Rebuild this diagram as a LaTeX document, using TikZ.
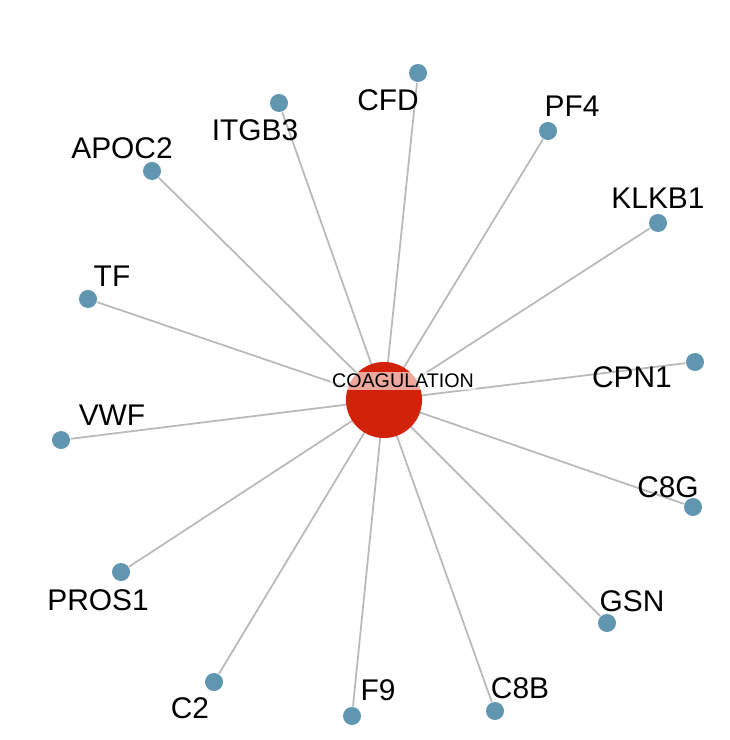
\documentclass[tikz,border=0pt]{standalone}
\usepackage{fontspec}
\setmainfont{Liberation Sans}
\begin{document}
\begin{tikzpicture}[x=0.01cm,y=-0.01cm,
  dot/.style={circle,fill={rgb,255:red,96;green,150;blue,176},minimum size=0.18cm,inner sep=0pt},
  lab/.style={font=\fontsize{8.5}{9}\selectfont},
  edge/.style={draw={rgb,255:red,185;green,185;blue,185},line width=0.5pt}]
\useasboundingbox (0,0) rectangle (729,740);
\foreach \n/\x/\y/\t/\lx/\ly in {
 cfd/418/73/CFD/388/100, itgb/279/103/ITGB3/255/130, apoc/152/171/APOC2/122/148,
 pf/548/131/PF4/572/106, klkb/658/223/KLKB1/658/198, tf/88/299/TF/112/276,
 cpn/695/362/CPN1/632/377, vwf/61/440/VWF/112/415, cg/693/507/C8G/668/487,
 pros/121/572/PROS1/98/600, gsn/607/623/GSN/632/601, ctwo/214/682/C2/190/708,
 f/352/716/F9/378/690, cb/495/711/C8B/520/688}{
  \coordinate (c) at (384,400);
  \node[dot] (\n) at (\x,\y) {};
  \draw[edge] (c) -- (\n);
  \node[lab] (\n l) at (\lx,\ly) {\t};
}
\node[circle,fill={rgb,255:red,210;green,35;blue,10},minimum size=0.76cm,inner sep=0pt] (hub) at (384,400) {};
\node[font=\fontsize{5.6}{6}\selectfont,fill=white,fill opacity=0.6,text opacity=1,inner sep=0.5pt] (hubl) at (403,381) {COAGULATION};
\end{tikzpicture}
\end{document}
